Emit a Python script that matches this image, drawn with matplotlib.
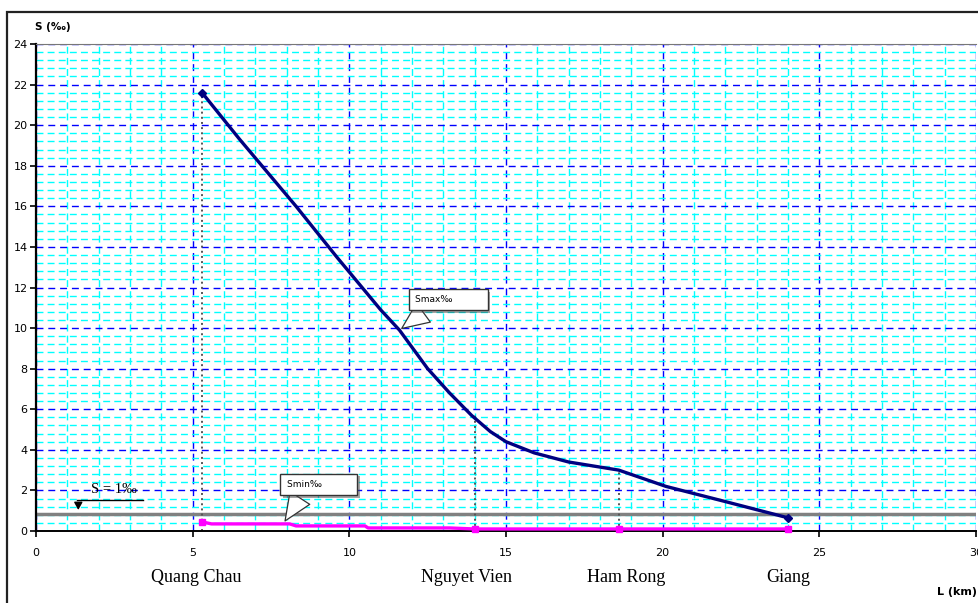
import numpy as np
import matplotlib
matplotlib.use('Agg')
import matplotlib.pyplot as plt
from matplotlib.patches import Rectangle
from matplotlib.patheffects import withSimplePatchShadow

# salinity along the river
smax_km = [5.3, 6.5, 8.3, 9.6, 11.0, 11.6, 12.5, 13.2, 13.9, 14.5, 15.0, 15.9, 17.0, 18.6, 20.1, 22.0, 24.0]
smax_val = [21.6, 19.3, 16.0, 13.5, 10.9, 9.9, 8.0, 6.8, 5.7, 4.9, 4.4, 3.85, 3.4, 3.0, 2.2, 1.45, 0.65]

smin_km = [5.3, 5.6, 8.1, 8.3, 10.5, 10.6, 13.2, 14.0, 18.6, 24.0]
smin_val = [0.45, 0.35, 0.35, 0.25, 0.25, 0.15, 0.15, 0.1, 0.1, 0.1]
smin_marks = [0, 7, 8, 9]

s_limit = 0.85
stations = ['Quang Chau', 'Nguyet Vien', 'Ham Rong', 'Giang']
station_km = [5.3, 14.0, 18.6, 24.0]
station_label_x = [5.1, 13.75, 18.85, 24.0]
station_top = [21.6, 5.7, 3.0]

fig = plt.figure(figsize=(9.79, 6.03), dpi=100)
fig.patch.set_facecolor('white')
ax = fig.add_axes([36/979, 72/603, 940/979, 487/603])

ax.set_xlim(0, 30)
ax.set_ylim(0, 24)
ax.set_xticks(np.arange(0, 31, 5))
ax.set_yticks(np.arange(0, 25, 2))
ax.set_xticks(np.arange(0, 31, 1), minor=True)
ax.set_yticks(np.arange(0, 24.01, 0.4), minor=True)
ax.grid(which='minor', color='#00FFFF', lw=1, ls=(0, (5, 3)), zorder=0)
ax.grid(which='major', color='#0000FF', lw=1, ls=(0, (5, 3.5)), zorder=0)
ax.set_axisbelow(True)
ax.tick_params(which='minor', length=0)
ax.tick_params(which='major', direction='out', length=4, width=1.2,
               labelsize=8, pad=2)
ax.tick_params(axis='x', pad=8)
for lbl in ax.get_xticklabels() + ax.get_yticklabels():
    lbl.set_family('DejaVu Sans')

ax.spines['left'].set_linewidth(1.6)
ax.spines['bottom'].set_linewidth(1.4)
ax.spines['top'].set_color('#777777')
ax.spines['right'].set_visible(False)

# S = 1 per mil line
ax.axhline(s_limit, color='#808080', lw=2.5, zorder=2)

# dotted station markers
for km, top in zip(station_km[:3], station_top):
    ax.plot([km, km], [0, top], color='#555555', lw=1.4, ls=':', zorder=2)

ax.plot(smax_km, smax_val, color='#000080', lw=2.4, marker='D', ms=4,
        markevery=[0, len(smax_km) - 1], zorder=4)
ax.plot(smin_km, smin_val, color='#FF00FF', lw=2.4, marker='s', ms=5,
        markevery=smin_marks, zorder=4, clip_on=False)

# callouts
for label, pt, txt in [('Smax‰          ', (11.6, 9.9), (12.1, 11.4)),
                       ('Smin‰          ', (7.9, 0.38), (8.0, 2.3))]:
    a = ax.annotate(label, xy=pt, xytext=txt, fontsize=6.5, ha='left', va='center',
                    family='DejaVu Sans',
                    bbox=dict(boxstyle='square,pad=0.7', fc='white', ec='#333333', lw=1),
                    arrowprops=dict(arrowstyle='wedge,tail_width=2.6,shrink_factor=0.5',
                                    fc='white', ec='#333333', lw=0.9,
                                    relpos=(0.3, 0.0)),
                    zorder=6)
    a.get_bbox_patch().set_path_effects([withSimplePatchShadow(offset=(2, -2), alpha=0.5)])

# S=1‰ marker
ax.text(2.5, 2.05, 'S = 1‰', family='Liberation Serif', fontsize=10.5,
        ha='center', va='center', zorder=5)
ax.plot([1.3, 3.4], [1.53, 1.53], color='black', lw=1, zorder=5)
ax.annotate('', xy=(1.35, s_limit + 0.05), xytext=(1.35, 1.53),
            arrowprops=dict(arrowstyle='-|>,head_width=0.25,head_length=0.45',
                            color='black', lw=1), zorder=5)

# station names under the axis
for name, km in zip(stations, station_label_x):
    ax.text(km, -2.3, name, family='Liberation Serif', fontsize=13,
            ha='center', va='center', clip_on=False)

fig.text(35/979, 1 - 27/603, 'S (‰)', fontsize=7.5, fontweight='bold',
         family='DejaVu Sans', va='center', ha='left')
fig.text(937/979, 1 - 592/603, 'L (km)', fontsize=8, fontweight='bold',
         family='DejaVu Sans', va='center', ha='left')

# outer frame
fig.patches.append(Rectangle((7/979, -0.05), 1.0, 1 - 12/603 + 0.05,
                             transform=fig.transFigure, fill=False,
                             ec='#222222', lw=1.6))

fig.savefig('out.png', dpi=100)
